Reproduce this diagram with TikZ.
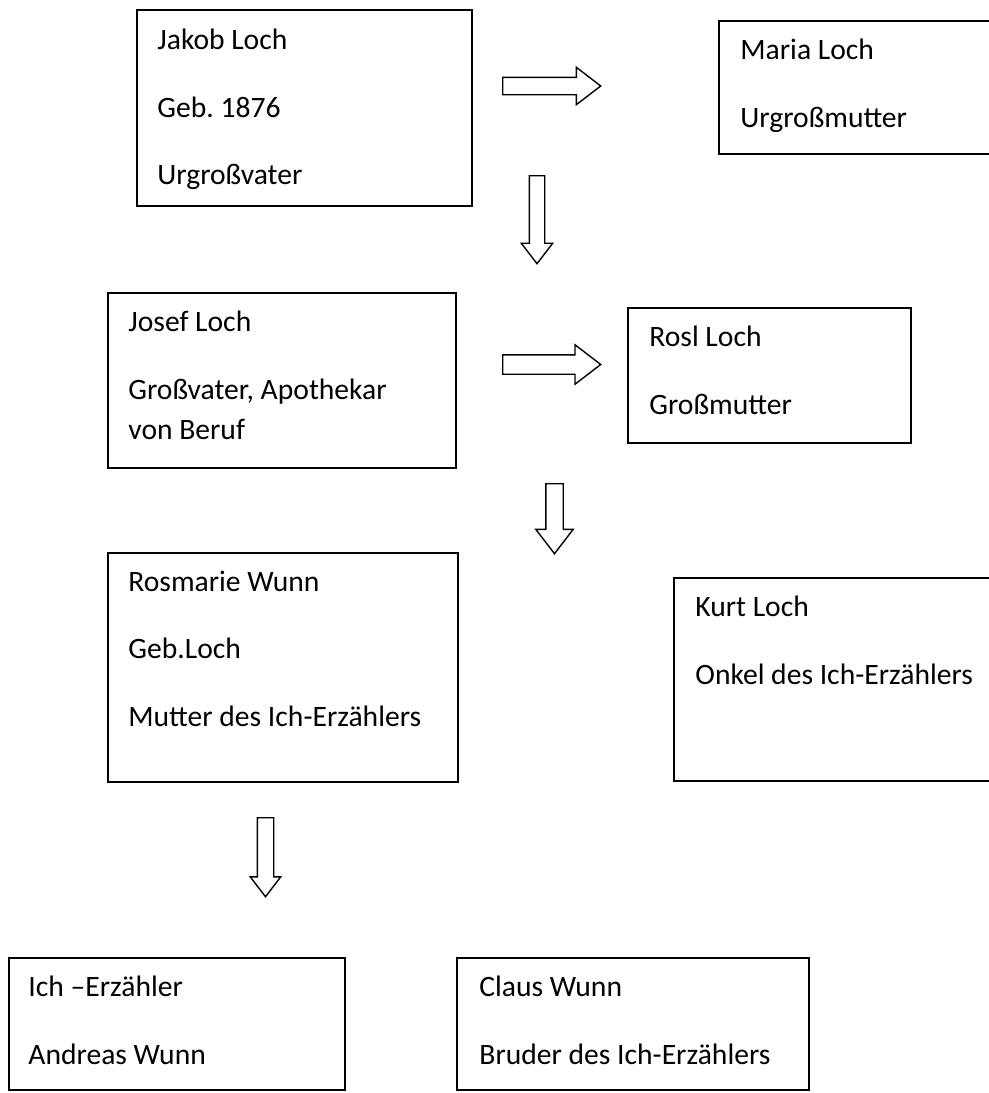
\documentclass[tikz,border=0pt]{standalone}
\usepackage{fontspec}
\setmainfont{Carlito}
\usetikzlibrary{shapes.arrows}
\frenchspacing

\tikzset{
  person/.style={draw,line width=1pt,anchor=north west,inner sep=0pt},
  entry/.style={anchor=north west,align=left,inner sep=0pt,
    font=\fontsize{14.8}{20.25}\selectfont,execute at begin node={\strut}},
  blockarrow/.style={single arrow,draw,line width=0.7pt,fill=white,inner sep=4pt,
    single arrow head extend=5pt,single arrow tip angle=75,anchor=tail}
}

\begin{document}
\begin{tikzpicture}[x=0.5pt,y=-0.5pt]
\useasboundingbox (0,0) rectangle (989,1093);
\node[person,minimum width=167.5pt,minimum height=98pt] (jakob) at (136,9) {};
\node[entry] (jakobtxt) at ([shift={(21,19.6)}]jakob.north west) {Jakob Loch\\[13.5pt]Geb. 1876\\[13.5pt]Urgroßvater};
\node[person,minimum width=141pt,minimum height=66.5pt] (maria) at (718,20) {};
\node[entry] (mariatxt) at ([shift={(22,18.6)}]maria.north west) {Maria Loch\\[13.5pt]Urgroßmutter};
\node[person,minimum width=174pt,minimum height=87.5pt] (josef) at (107,292) {};
\node[entry] (joseftxt) at ([shift={(21,18.6)}]josef.north west) {Josef Loch\\[13.5pt]Großvater, Apothekar\\von Beruf};
\node[person,minimum width=141.5pt,minimum height=67.5pt] (rosl) at (627,307) {};
\node[entry] (rosltxt) at ([shift={(22,18.6)}]rosl.north west) {Rosl Loch\\[13.5pt]Großmutter};
\node[person,minimum width=175pt,minimum height=114.5pt] (rosmarie) at (107,552) {};
\node[entry] (rosmarietxt) at ([shift={(21,18.6)}]rosmarie.north west) {Rosmarie Wunn\\[13.5pt]Geb.Loch\\[13.5pt]Mutter des Ich-Erzählers};
\node[person,minimum width=163.5pt,minimum height=101.5pt] (kurt) at (673,577) {};
\node[entry] (kurttxt) at ([shift={(22,18.6)}]kurt.north west) {Kurt Loch\\[13.5pt]Onkel des Ich-Erzählers};
\node[person,minimum width=168pt,minimum height=66pt] (ich) at (8,957) {};
\node[entry] (ichtxt) at ([shift={(20,18.6)}]ich.north west) {Ich –Erzähler\\[13.5pt]Andreas Wunn};
\node[person,minimum width=176pt,minimum height=66pt] (claus) at (456,957) {};
\node[entry] (claustxt) at ([shift={(23,18.6)}]claus.north west) {Claus Wunn\\[13.5pt]Bruder des Ich-Erzählers};
\node[blockarrow,minimum height=49pt] (jakobmaria) at (502,86) {};
\node[blockarrow,minimum height=49pt,inner sep=4.5pt] (josefrosl) at (502,364.5) {};
\node[blockarrow,rotate=-90,minimum height=44pt,inner sep=3.5pt,single arrow head extend=4pt] (jakobjosef) at (537,175) {};
\node[blockarrow,rotate=-90,minimum height=35pt] (roslrosmarie) at (554.5,483) {};
\node[blockarrow,rotate=-90,minimum height=39.5pt,inner sep=3.75pt,single arrow head extend=3.5pt] (rosmarieich) at (265.5,817) {};
\end{tikzpicture}
\end{document}
